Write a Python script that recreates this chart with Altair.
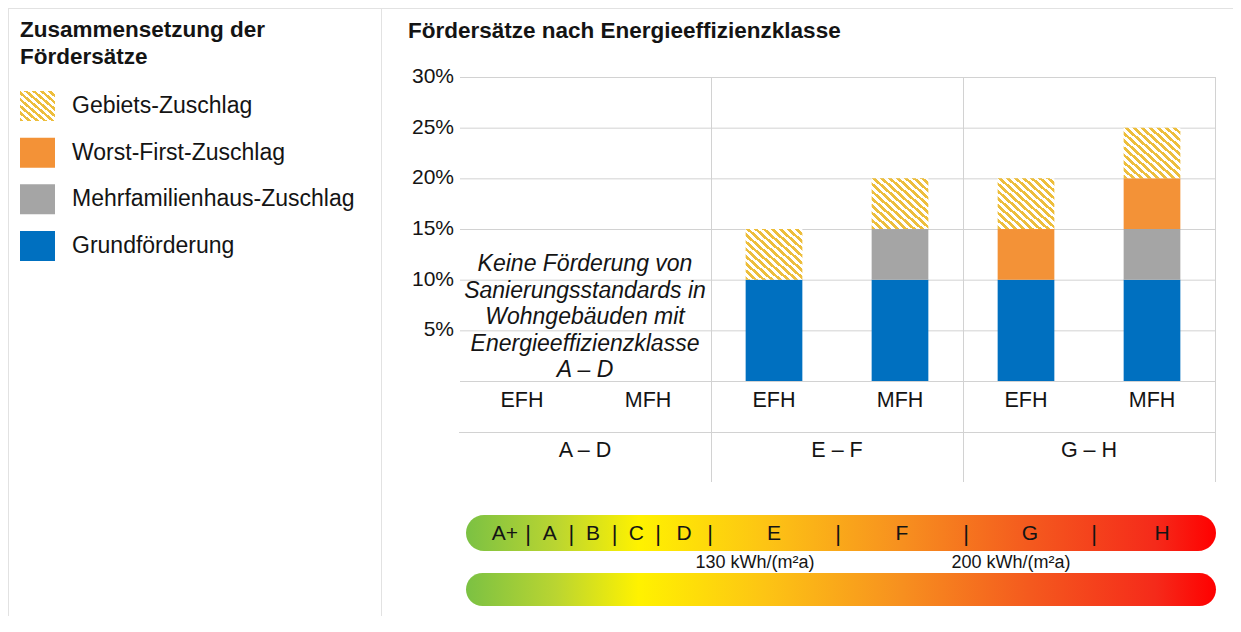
import altair as alt
import pandas as pd

# ------------------------------------------------------------------ data
groups = ["A – D", "E – F", "G – H"]
house_types = ["EFH", "MFH"]
# Fördersatz components in %  (bars: A–D EFH, A–D MFH, E–F EFH, E–F MFH, G–H EFH, G–H MFH)
grundfoerderung = [0, 0, 10, 10, 10, 10]
mfh_zuschlag = [0, 0, 0, 5, 0, 5]
worst_first = [0, 0, 0, 0, 5, 5]
gebiets = [0, 0, 5, 5, 5, 5]
components = ["Grundförderung", "Mehrfamilienhaus-Zuschlag", "Worst-First-Zuschlag", "Gebiets-Zuschlag"]
component_colors = ["#0070C0", "#A5A5A5", "#F39237"]
legend_order = ["Gebiets-Zuschlag", "Worst-First-Zuschlag", "Mehrfamilienhaus-Zuschlag", "Grundförderung"]
y_label_ticks = [5, 10, 15, 20, 25, 30]
grid_ticks = [0, 5, 10, 15, 20, 25, 30]
note_lines = ["Keine Förderung von", "Sanierungsstandards in", "Wohngebäuden mit",
              "Energieeffizienzklasse", "A – D"]
classes = ["A+", "A", "B", "C", "D", "E", "F", "G", "H"]
threshold_labels = ["130 kWh/(m²a)", "200 kWh/(m²a)"]
threshold_after = ["D", "F"]
left_title = ["Zusammensetzung der", "Fördersätze"]
right_title = "Fördersätze nach Energieeffizienzklasse"

# ------------------------------------------------------------------ style
FONT = "Liberation Sans"
TXT = "#141414"
HATCH = "#EDBE3C"
BORDER = "#E2E2E2"
GRID = "#D2D2D2"

energy_stops = [(0.0, "#7BC143"), (0.12, "#BAD531"), (0.23, "#FFF200"), (0.40, "#FDC414"),
                (0.58, "#F7901F"), (0.75, "#F45A1E"), (0.92, "#F52A1A"), (1.0, "#FF0000")]


def hatch(n):
    stops = []
    for i in range(n):
        a, b, c = i / n, (i + 0.5) / n, (i + 1) / n
        stops += [alt.GradientStop(offset=a, color=HATCH), alt.GradientStop(offset=b, color=HATCH),
                  alt.GradientStop(offset=b, color="white"), alt.GradientStop(offset=c, color="white")]
    return alt.Gradient(gradient="linear", stops=stops, x1=0, y1=1, x2=1, y2=0)


energy_grad = alt.Gradient(gradient="linear", x1=0, y1=0, x2=1, y2=0,
                           stops=[alt.GradientStop(offset=o, color=c) for o, c in energy_stops])

# ------------------------------------------------------------------ tables
pos_domain = [f"{g} {t}" for g in groups for t in house_types]
rows = []
for i, pos in enumerate(pos_domain):
    base = 0
    for comp, arr in zip(components, [grundfoerderung, mfh_zuschlag, worst_first, gebiets]):
        v = arr[i]
        if v > 0:
            rows.append({"pos": pos, "comp": comp, "y0": base, "y1": base + v})
            base += v
df_bars = pd.DataFrame(rows)
df_solid = df_bars[df_bars["comp"] != "Gebiets-Zuschlag"]
df_hatch = df_bars[df_bars["comp"] == "Gebiets-Zuschlag"]
df_sub = pd.DataFrame({"pos": pos_domain, "label": [t for g in groups for t in house_types]})
df_groups = pd.DataFrame({"group": groups})
df_grid = pd.DataFrame({"tick": grid_ticks})
df_ylab = pd.DataFrame({"tick": y_label_ticks, "label": [f"{t}%" for t in y_label_ticks]})
df_legend = pd.DataFrame({"label": legend_order})
df_classes = pd.DataFrame({"cls": classes, "mid": [i + 0.5 for i in range(len(classes))]})
df_seps = pd.DataFrame({"b": list(range(1, len(classes)))})
df_thr = pd.DataFrame({"label": threshold_labels, "b": [classes.index(c) + 1 for c in threshold_after]})
one = pd.DataFrame({"k": [0]})

# ------------------------------------------------------------------ scales
pos_scale = alt.Scale(type="band", domain=pos_domain, range=[451, 1207], paddingInner=0.55, paddingOuter=0.275)
grp_scale = alt.Scale(type="band", domain=groups, range=[451, 1207], paddingInner=0, paddingOuter=0)
grp_rule_scale = alt.Scale(type="band", domain=groups, range=[451.5, 1207.5], paddingInner=0, paddingOuter=0)
y_scale = alt.Scale(domain=[0, 30], range=[373, 69], nice=False)
y_grid_scale = alt.Scale(domain=[0, 30], range=[373.5, 69.5], nice=False)
cls_scale = alt.Scale(type="linear", domain=[0, 1, 4, 5, 8, 9], range=[474, 520, 650, 702, 1086, 1222],
                      nice=False, zero=False)
legend_scale = alt.Scale(type="point", domain=legend_order, range=[98, 238], padding=0)
SWATCH = "M-1,-0.857H1V0.857H-1Z"


def rule(x, y, x2=None, y2=None, color=BORDER):
    enc = {"x": alt.value(x), "y": alt.value(y)}
    if x2 is not None:
        enc["x2"] = alt.value(x2)
    if y2 is not None:
        enc["y2"] = alt.value(y2)
    return alt.Chart(one).mark_rule(color=color, strokeWidth=1).encode(**enc)


def label(text, x, y, size=22.5, **kw):
    return alt.Chart(one).mark_text(text=text, font=FONT, fontSize=size, color=TXT, **kw).encode(
        x=alt.value(x), y=alt.value(y))


layers = []
# panel borders
layers += [rule(0, 0.5, x2=1225), rule(0.5, 0, y2=608), rule(373.5, 0, y2=608)]
# gridlines
layers.append(alt.Chart(df_grid).mark_rule(color=GRID, strokeWidth=1).encode(
    y=alt.Y("tick:Q", scale=y_grid_scale, axis=None), x=alt.value(452), x2=alt.value(1207.5)))
# group separators
layers.append(alt.Chart(df_groups).mark_rule(color=GRID, strokeWidth=1).encode(
    x=alt.X("group:N", scale=grp_rule_scale, bandPosition=1, axis=None), y=alt.value(69), y2=alt.value(474)))
layers.append(rule(451, 424.5, x2=1207.5, color=GRID))
# bars
layers.append(alt.Chart(df_solid).mark_bar().encode(
    x=alt.X("pos:N", scale=pos_scale, axis=None),
    y=alt.Y("y0:Q", scale=y_scale, axis=None), y2="y1:Q",
    color=alt.Color("comp:N", scale=alt.Scale(domain=components[:3], range=component_colors), legend=None)))
layers.append(alt.Chart(df_hatch).mark_bar(fill=hatch(14)).encode(
    x=alt.X("pos:N", scale=pos_scale, axis=None),
    y=alt.Y("y0:Q", scale=y_scale, axis=None), y2="y1:Q"))
# y labels
layers.append(alt.Chart(df_ylab).mark_text(font=FONT, fontSize=21, color=TXT, align="right", baseline="middle").encode(
    x=alt.value(446), y=alt.Y("tick:Q", scale=y_scale, axis=None), text="label:N"))
# sub / group labels
layers.append(alt.Chart(df_sub).mark_text(font=FONT, fontSize=21.5, color=TXT, baseline="middle").encode(
    x=alt.X("pos:N", scale=pos_scale, bandPosition=0.5, axis=None), y=alt.value(393), text="label:N"))
layers.append(alt.Chart(df_groups).mark_text(font=FONT, fontSize=21.5, color=TXT, baseline="middle").encode(
    x=alt.X("group:N", scale=grp_scale, bandPosition=0.5, axis=None), y=alt.value(443), text="group:N"))
# note
layers.append(alt.Chart(df_groups.head(1)).mark_text(
    text=note_lines, font=FONT, fontSize=23, fontStyle="italic", color=TXT, baseline="middle",
    lineHeight=26.5).encode(
    x=alt.X("group:N", scale=grp_scale, bandPosition=0.5, axis=None), y=alt.value(256)))
# titles
layers.append(label(left_title[0], 12, 22, fontWeight="bold", align="left", baseline="middle"))
layers.append(label(left_title[1], 12, 49, fontWeight="bold", align="left", baseline="middle"))
layers.append(label(right_title, 400, 23, fontWeight="bold", align="left", baseline="middle"))
# legend
layers.append(alt.Chart(df_legend[df_legend["label"] != "Gebiets-Zuschlag"]).mark_point(
    shape=SWATCH, size=1225, filled=True, opacity=1, strokeWidth=0).encode(
    x=alt.value(29.5), y=alt.Y("label:N", scale=legend_scale, axis=None),
    color=alt.Color("label:N", scale=alt.Scale(domain=components[:3], range=component_colors), legend=None)))
layers.append(alt.Chart(df_legend[df_legend["label"] == "Gebiets-Zuschlag"]).mark_point(
    shape=SWATCH, size=1225, filled=True, opacity=1, strokeWidth=0, fill=hatch(9)).encode(
    x=alt.value(29.5), y=alt.Y("label:N", scale=legend_scale, axis=None)))
layers.append(alt.Chart(df_legend).mark_text(font=FONT, fontSize=23, color=TXT, align="left", baseline="middle").encode(
    x=alt.value(64), y=alt.Y("label:N", scale=legend_scale, axis=None), text="label:N"))
# energy efficiency bars
layers.append(alt.Chart(one).mark_rect(fill=energy_grad, cornerRadius=18).encode(
    x=alt.value(458), x2=alt.value(1208), y=alt.value(507), y2=alt.value(543)))
layers.append(alt.Chart(one).mark_rect(fill=energy_grad, cornerRadius=17).encode(
    x=alt.value(458), x2=alt.value(1208), y=alt.value(565), y2=alt.value(598)))
layers.append(alt.Chart(df_classes).mark_text(font=FONT, fontSize=21, color=TXT, baseline="middle").encode(
    x=alt.X("mid:Q", scale=cls_scale, axis=None), y=alt.value(526), text="cls:N"))
layers.append(alt.Chart(df_seps).mark_text(text="|", font=FONT, fontSize=22, color=TXT, baseline="middle").encode(
    x=alt.X("b:Q", scale=cls_scale, axis=None), y=alt.value(526)))
layers.append(alt.Chart(df_thr).mark_text(font=FONT, fontSize=18, color=TXT, baseline="middle", dx=45).encode(
    x=alt.X("b:Q", scale=cls_scale, axis=None), y=alt.value(555), text="label:N"))

chart = alt.layer(*layers).resolve_scale(
    x="independent", y="independent", color="independent"
).properties(
    width=1225, height=608, autosize=alt.AutoSizeParams(type="none"), padding=0
).configure_view(strokeWidth=0).configure(background="white")

chart.save("out.html", embed_options={"renderer": "svg", "actions": False})
